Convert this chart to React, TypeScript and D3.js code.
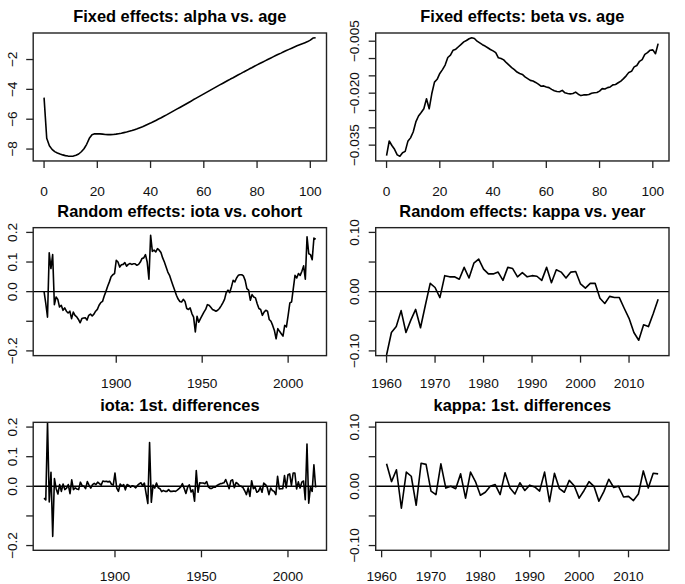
import React from "react";
import * as d3 from "d3";

// ---------- data ----------
const ages = d3.range(0, 103);
const alphaValues = [
  -4.55, -7.28, -7.78, -8.02, -8.17, -8.26, -8.33, -8.39, -8.44, -8.47,
  -8.48, -8.47, -8.42, -8.33, -8.18, -7.98, -7.68, -7.28, -7.04, -6.98,
  -6.97, -6.98, -7.0, -7.02, -7.03, -7.03, -7.02, -7.0, -6.97, -6.94,
  -6.9, -6.86, -6.81, -6.76, -6.7, -6.64, -6.57, -6.5, -6.42, -6.34,
  -6.26, -6.17, -6.08, -5.99, -5.9, -5.8, -5.71, -5.61, -5.51, -5.41,
  -5.31, -5.21, -5.11, -5.01, -4.91, -4.81, -4.7, -4.6, -4.5, -4.4,
  -4.3, -4.2, -4.1, -4.0, -3.9, -3.8, -3.7, -3.61, -3.51, -3.41,
  -3.31, -3.22, -3.12, -3.02, -2.93, -2.83, -2.74, -2.64, -2.55, -2.45,
  -2.36, -2.27, -2.18, -2.09, -2.0, -1.91, -1.82, -1.73, -1.65, -1.57,
  -1.48, -1.4, -1.32, -1.24, -1.16, -1.08, -1.01, -0.94, -0.87, -0.8,
  -0.7, -0.56, -0.54,
];
const betaValues = [
  -0.038, -0.0338, -0.0351, -0.0362, -0.0378, -0.0382, -0.0372, -0.0368, -0.0339, -0.0329,
  -0.0312, -0.0283, -0.0266, -0.0256, -0.0245, -0.0216, -0.0245, -0.0201, -0.0168, -0.016,
  -0.0143, -0.0132, -0.0119, -0.0097, -0.009, -0.0076, -0.0073, -0.0066, -0.0059, -0.0052,
  -0.0048, -0.0043, -0.004, -0.0042, -0.005, -0.0055, -0.006, -0.0064, -0.0069, -0.0074,
  -0.0078, -0.0083, -0.0098, -0.01, -0.0104, -0.0112, -0.0119, -0.0126, -0.0132, -0.0139,
  -0.0143, -0.0146, -0.0153, -0.0158, -0.0163, -0.0165, -0.0169, -0.0174, -0.018, -0.0179,
  -0.0182, -0.0184, -0.0189, -0.0193, -0.0195, -0.0196, -0.0192, -0.0199, -0.0201, -0.0202,
  -0.0201, -0.0197, -0.0203, -0.0207, -0.0205, -0.0205, -0.0204, -0.02, -0.0199, -0.0198,
  -0.0194, -0.0187, -0.0188, -0.0184, -0.0182, -0.0176, -0.0175, -0.017, -0.0165, -0.0158,
  -0.015, -0.014, -0.0137, -0.0124, -0.012, -0.0108, -0.0103, -0.0088, -0.0083, -0.0076,
  -0.0075, -0.0086, -0.0057,
];
const cohorts = d3.range(1858, 2017);
const iotaValues = [
  0.0, -0.04, -0.086, 0.131, 0.078, 0.125, -0.044, -0.018, -0.026, -0.052,
  -0.046, -0.063, -0.055, -0.066, -0.072, -0.066, -0.091, -0.069, -0.08, -0.085,
  -0.094, -0.105, -0.091, -0.089, -0.088, -0.096, -0.08, -0.076, -0.082, -0.076,
  -0.066, -0.06, -0.046, -0.037, -0.033, -0.015, 0.001, 0.018, 0.033, 0.05,
  0.057, 0.061, 0.106, 0.1, 0.083, 0.091, 0.092, 0.098, 0.086, 0.092,
  0.095, 0.092, 0.094, 0.094, 0.089, 0.092, 0.1, 0.112, 0.114, 0.125,
  0.1, 0.042, 0.19, 0.136, 0.14, 0.134, 0.145, 0.14, 0.132, 0.114,
  0.1, 0.083, 0.066, 0.055, 0.038, 0.021, 0.005, -0.012, -0.025, -0.033,
  -0.035, -0.026, -0.033, -0.057, -0.06, -0.055, -0.074, -0.086, -0.136, -0.083,
  -0.103, -0.091, -0.08, -0.069, -0.06, -0.044, -0.046, -0.053, -0.06, -0.063,
  -0.066, -0.063, -0.057, -0.048, -0.038, -0.026, -0.003, 0.005, -0.003, 0.016,
  0.038, 0.033, 0.046, 0.055, 0.057, 0.057, 0.053, 0.038, 0.01, 0.005,
  -0.029, -0.01, -0.018, -0.021, -0.041, -0.057, -0.06, -0.08, -0.069, -0.063,
  -0.066, -0.094, -0.1, -0.114, -0.131, -0.159, -0.125, -0.134, -0.142, -0.15,
  -0.114, -0.119, -0.08, -0.038, -0.035, 0.01, 0.055, 0.046, 0.061, 0.055,
  0.069, 0.087, 0.042, 0.185, 0.128, 0.125, 0.108, 0.181, 0.177,
];
const cohortsDiff = d3.range(1859, 2017);
const iotaDiffValues = [
  -0.04, -0.046, 0.217, -0.053, 0.047, -0.169, 0.026, -0.008, -0.026, 0.006,
  -0.017, 0.008, -0.011, -0.006, 0.006, -0.025, 0.022, -0.011, -0.005, -0.009,
  -0.011, 0.014, 0.002, 0.001, -0.008, 0.016, 0.004, -0.006, 0.006, 0.01,
  0.006, 0.014, 0.009, 0.004, 0.018, 0.016, 0.017, 0.015, 0.017, 0.007,
  0.004, 0.045, -0.006, -0.017, 0.008, 0.001, 0.006, -0.012, 0.006, 0.003,
  -0.003, 0.002, 0.0, -0.005, 0.003, 0.008, 0.012, 0.002, 0.011, -0.025,
  -0.058, 0.148, -0.054, 0.004, -0.006, 0.011, -0.005, -0.008, -0.018, -0.014,
  -0.017, -0.017, -0.011, -0.017, -0.017, -0.016, -0.017, -0.013, -0.008, -0.002,
  0.009, -0.007, -0.024, -0.003, 0.005, -0.019, -0.012, -0.05, 0.053, -0.02,
  0.012, 0.011, 0.011, 0.009, 0.016, -0.002, -0.007, -0.007, -0.003, -0.003,
  0.003, 0.006, 0.009, 0.01, 0.012, 0.023, 0.008, -0.008, 0.019, 0.022,
  -0.005, 0.013, 0.009, 0.002, 0.0, -0.004, -0.015, -0.028, -0.005, -0.034,
  0.019, -0.008, -0.003, -0.02, -0.016, -0.003, -0.02, 0.011, 0.006, -0.003,
  -0.028, -0.006, -0.014, -0.017, -0.028, 0.034, -0.009, -0.008, -0.008, 0.036,
  -0.005, 0.039, 0.042, 0.003, 0.045, 0.045, -0.009, 0.015, -0.006, 0.014,
  0.018, -0.045, 0.143, -0.057, -0.003, -0.017, 0.073, -0.004,
];
const years = d3.range(1960, 2017);
const kappaValues = [
  -0.107, -0.069, -0.059, -0.032, -0.069, -0.048, -0.03, -0.061, -0.023, 0.014,
  0.007, -0.01, 0.027, 0.025, 0.025, 0.021, 0.041, 0.023, 0.048, 0.055,
  0.038, 0.03, 0.03, 0.033, 0.019, 0.041, 0.039, 0.025, 0.032, 0.025,
  0.027, 0.026, 0.019, 0.041, 0.015, 0.037, 0.033, 0.023, 0.033, 0.034,
  0.013, 0.006, 0.014, 0.014, -0.011, -0.02, -0.008, -0.01, -0.01, -0.028,
  -0.045, -0.069, -0.082, -0.056, -0.059, -0.037, -0.013,
];
const yearsDiff = d3.range(1961, 2017);
const kappaDiffValues = [
  0.038, 0.008, 0.028, -0.037, 0.024, 0.017, -0.032, 0.039, 0.037, -0.008,
  -0.014, 0.038, -0.003, 0.0, -0.004, 0.021, -0.02, 0.024, 0.008, -0.015,
  -0.01, 0.0, 0.003, -0.014, 0.023, -0.003, -0.013, 0.006, -0.007, 0.002,
  -0.001, -0.008, 0.024, -0.026, 0.022, -0.004, -0.01, 0.01, 0.001, -0.02,
  -0.007, 0.008, 0.0, -0.025, -0.009, 0.012, -0.002, 0.0, -0.018, -0.017,
  -0.024, -0.013, 0.026, -0.003, 0.022, 0.021,
];

// ---------- ticks ----------
const ageTicks = [0, 20, 40, 60, 80, 100];
const cohortTicks = [1900, 1950, 2000];
const yearTicks = [1960, 1970, 1980, 1990, 2000, 2010];
const alphaTicks = [-8, -6, -4, -2];
const alphaLabels = [-8, -6, -4, -2];
const betaTicks = [-0.035, -0.03, -0.025, -0.02, -0.015, -0.01, -0.005];
const betaLabels = [-0.035, -0.02, -0.005];
const iotaTicks = [-0.2, -0.1, 0, 0.1, 0.2];
const iotaLabels = [-0.2, 0, 0.1, 0.2];
const kappaTicks = [-0.1, -0.05, 0, 0.05, 0.1];
const kappaLabels = [-0.1, 0, 0.1];

// ---------- layout ----------
const W = 685;
const H = 584;
const cellW = W / 2;
const cellH = H / 3;
const FONT = "'Liberation Sans', Arial, Helvetica, sans-serif";
const xLabelOffsets = [35, 32.5, 30.3];

function padExt(ext: [number, number]): [number, number] {
  const r = ext[1] - ext[0];
  return [ext[0] - 0.04 * r, ext[1] + 0.04 * r];
}

function fmt(v: number, digits: number) {
  const s = v.toFixed(digits);
  return s.startsWith("-") ? "\u2212" + s.slice(1) : s;
}

type PanelProps = {
  id: string;
  col: number;
  row: number;
  title: string;
  xs: number[];
  ys: number[];
  yLim?: [number, number];
  xTicks: number[];
  yTicks: number[];
  yLabels: number[];
  yDigits: number;
  hline?: boolean;
};

function Panel(p: PanelProps) {
  const x0 = p.col * cellW + 33.2;
  const x1 = (p.col + 1) * cellW - 16;
  const y0 = p.row * cellH + 33;
  const y1 = (p.row + 1) * cellH - 33.7;
  const xScale = d3
    .scaleLinear()
    .domain(padExt(d3.extent(p.xs) as [number, number]))
    .range([x0, x1]);
  const yScale = d3
    .scaleLinear()
    .domain(padExt(p.yLim ?? (d3.extent(p.ys) as [number, number])))
    .range([y1, y0]);
  const line = d3
    .line<number>()
    .x((_, i) => xScale(p.xs[i]))
    .y((d) => yScale(d));
  const tick = 7;
  const xLabelY = y1 + xLabelOffsets[p.row];
  return (
    <g>
      <defs>
        <clipPath id={p.id}>
          <rect x={x0} y={y0} width={x1 - x0} height={y1 - y0} />
        </clipPath>
      </defs>
      <text
        x={(x0 + x1) / 2}
        y={y0 - 11}
        textAnchor="middle"
        fontFamily={FONT}
        fontWeight="bold"
        fontSize={16.4}
        fill="#000"
      >
        {p.title}
      </text>
      {p.hline && (
        <line
          x1={x0}
          x2={x1}
          y1={yScale(0)}
          y2={yScale(0)}
          stroke="#000"
          strokeWidth={1.4}
        />
      )}
      <path
        d={line(p.ys) ?? ""}
        fill="none"
        stroke="#000"
        strokeWidth={1.6}
        strokeLinejoin="round"
        clipPath={`url(#${p.id})`}
      />
      <rect
        x={x0}
        y={y0}
        width={x1 - x0}
        height={y1 - y0}
        fill="none"
        stroke="#222"
        strokeWidth={1.4}
      />
      {p.xTicks.map((t) => (
        <g key={"x" + t}>
          <line
            x1={xScale(t)}
            x2={xScale(t)}
            y1={y1}
            y2={y1 + tick}
            stroke="#222"
            strokeWidth={1.3}
          />
          <text
            x={xScale(t)}
            y={xLabelY}
            textAnchor="middle"
            fontFamily={FONT}
            fontSize={13.7}
            fill="#111"
          >
            {String(t)}
          </text>
        </g>
      ))}
      {p.yTicks.map((t) => (
        <line
          key={"y" + t}
          x1={x0 - tick}
          x2={x0}
          y1={yScale(t)}
          y2={yScale(t)}
          stroke="#222"
          strokeWidth={1.3}
        />
      ))}
      {p.yLabels.map((t) => (
        <text
          key={"yl" + t}
          transform={`translate(${x0 - 16.3},${yScale(t)}) rotate(-90)`}
          textAnchor="middle"
          fontFamily={FONT}
          fontSize={13.7}
          fill="#111"
        >
          {fmt(t, p.yDigits)}
        </text>
      ))}
    </g>
  );
}

export default function App() {
  return (
    <svg
      width={W}
      height={H}
      viewBox={`0 0 ${W} ${H}`}
      style={{ display: "block", position: "absolute", left: 0, top: 0, background: "#fff" }}
    >
      <rect x={0} y={0} width={W} height={H} fill="#fff" />
      <Panel
        id="c1"
        col={0}
        row={0}
        title="Fixed effects: alpha vs. age"
        xs={ages}
        ys={alphaValues}
        xTicks={ageTicks}
        yTicks={alphaTicks}
        yLabels={alphaLabels}
        yDigits={0}
      />
      <Panel
        id="c2"
        col={1}
        row={0}
        title="Fixed effects: beta vs. age"
        xs={ages}
        ys={betaValues}
        xTicks={ageTicks}
        yTicks={betaTicks}
        yLabels={betaLabels}
        yDigits={3}
      />
      <Panel
        id="c3"
        col={0}
        row={1}
        title="Random effects: iota vs. cohort"
        xs={cohorts}
        ys={iotaValues}
        yLim={[-0.2, 0.2]}
        xTicks={cohortTicks}
        yTicks={iotaTicks}
        yLabels={iotaLabels}
        yDigits={1}
        hline
      />
      <Panel
        id="c4"
        col={1}
        row={1}
        title="Random effects: kappa vs. year"
        xs={years}
        ys={kappaValues}
        yLim={[-0.1, 0.1]}
        xTicks={yearTicks}
        yTicks={kappaTicks}
        yLabels={kappaLabels}
        yDigits={2}
        hline
      />
      <Panel
        id="c5"
        col={0}
        row={2}
        title="iota: 1st. differences"
        xs={cohortsDiff}
        ys={iotaDiffValues}
        yLim={[-0.2, 0.2]}
        xTicks={cohortTicks}
        yTicks={iotaTicks}
        yLabels={iotaLabels}
        yDigits={1}
        hline
      />
      <Panel
        id="c6"
        col={1}
        row={2}
        title="kappa: 1st. differences"
        xs={yearsDiff}
        ys={kappaDiffValues}
        yLim={[-0.1, 0.1]}
        xTicks={yearTicks}
        yTicks={kappaTicks}
        yLabels={kappaLabels}
        yDigits={2}
        hline
      />
    </svg>
  );
}
